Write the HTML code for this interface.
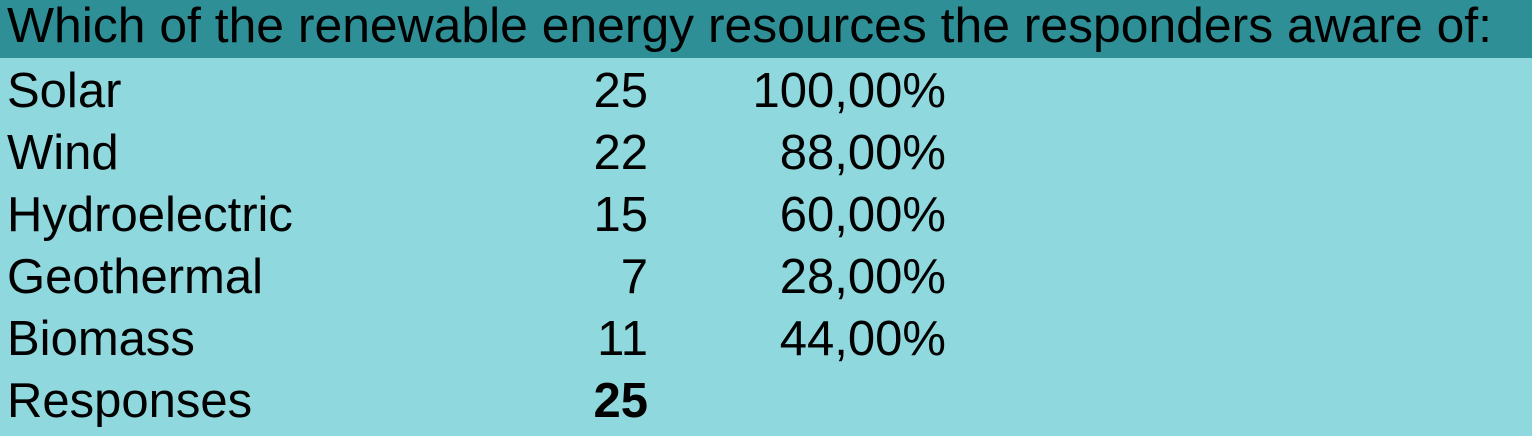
<!DOCTYPE html>
<html><head><meta charset="utf-8"><style>
html,body{margin:0;padding:0;width:1532px;height:436px;overflow:hidden;background:#8fd8de;}
svg{display:block}
text{font-family:"Liberation Sans",Arial,sans-serif;font-size:49px;fill:#000}
</style></head><body>
<svg width="1532" height="436">
<rect x="0" y="0" width="1532" height="58" fill="#2e8f96"/>
<rect x="0" y="58" width="1532" height="378" fill="#8fd8de"/>
<text x="7" y="42" textLength="1485" lengthAdjust="spacingAndGlyphs">Which of the renewable energy resources the responders aware of:</text>
<g id="rows"></g>
</svg>
<script>
const categories=["Solar","Wind","Hydroelectric","Geothermal","Biomass"];
const counts=[25,22,15,7,11];
const percents=["100,00%","88,00%","60,00%","28,00%","44,00%"];
const totalResponses=25;
const g=document.getElementById('rows');
const NS='http://www.w3.org/2000/svg';
function t(x,y,s,anchor,bold){const e=document.createElementNS(NS,'text');e.setAttribute('x',x);e.setAttribute('y',y);if(anchor)e.setAttribute('text-anchor',anchor);if(bold)e.setAttribute('font-weight','bold');e.textContent=s;g.appendChild(e);return e;}
categories.forEach((c,i)=>{
  const y=107+i*62;
  const a=t(7,y,c);
  
  
  const b=t(648,y,String(counts[i]),'end');
  
  
  const p=t(946,y,percents[i],'end');
  
  
});
const ry=107+5*62;
const r=t(7,ry,"Responses");


const rv=t(648,ry,String(totalResponses),'end',true);


</script>
</body></html>
